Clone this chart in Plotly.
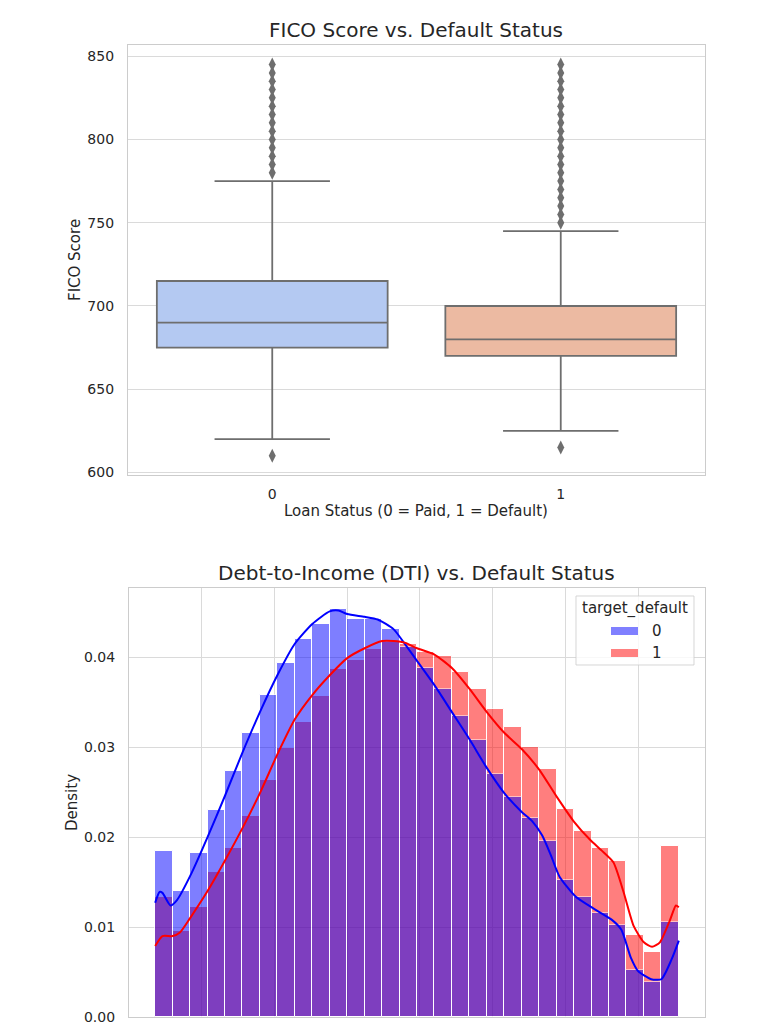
import plotly.graph_objects as go

# ---------------- DATA ----------------
# FICO box-plot statistics by loan status
loan_status = [0, 1]
fico_q1 = [675, 670]
fico_median = [690, 680]
fico_q3 = [715, 700]
fico_lower_whisker = [620, 625]
fico_upper_whisker = [775, 745]
fico_outliers_0 = [610, 780, 785, 790, 795, 800, 805, 810, 815, 820, 825, 830, 835, 840, 845]
fico_outliers_1 = [615, 750, 755, 760, 765, 770, 775, 780, 785, 790, 795, 800, 805, 810,
                   815, 820, 825, 830, 835, 840, 845]

# DTI histogram (30 bins, density)
dti_bin_edges = [1.8, 3.0, 4.2, 5.4, 6.6, 7.8, 9.0, 10.2, 11.4, 12.6, 13.8, 15.0, 16.2, 17.4,
                 18.6, 19.8, 21.0, 22.2, 23.4, 24.6, 25.8, 27.0, 28.2, 29.4, 30.6, 31.8,
                 33.0, 34.2, 35.4, 36.6, 37.8]
dti_density_0 = [0.0185, 0.0140, 0.0182, 0.0230, 0.0274, 0.0316, 0.0358, 0.0394, 0.0420,
                 0.0437, 0.0454, 0.0443, 0.0443, 0.0431, 0.0411, 0.0388, 0.0365, 0.0335,
                 0.0308, 0.0270, 0.0245, 0.0221, 0.0196, 0.0152, 0.0133, 0.0116, 0.0102,
                 0.0052, 0.0039, 0.0106]
dti_density_1 = [0.0133, 0.0096, 0.0122, 0.0161, 0.0188, 0.0223, 0.0264, 0.0299, 0.0328,
                 0.0357, 0.0387, 0.0397, 0.0409, 0.0417, 0.0415, 0.0406, 0.0401, 0.0384,
                 0.0365, 0.0342, 0.0322, 0.0300, 0.0276, 0.0231, 0.0207, 0.0188, 0.0173,
                 0.0091, 0.0072, 0.0190]

# KDE curves
kde0_x = [1.8, 2.1, 2.3, 2.85, 3.3, 4.3, 5.4, 6.6, 7.8, 9.0, 10.2, 11.4, 12.6, 13.8, 14.4,
          15.0, 16.2, 17.1, 18.2, 19.0, 19.8, 21.0, 22.2, 23.4, 24.6, 25.8, 27.0, 27.7, 28.4,
          29.0, 29.6, 30.7, 32.0, 33.2, 33.85, 34.5, 35.0, 35.9, 36.6, 37.3, 37.8]
kde0_y = [0.0127, 0.0139, 0.0138, 0.0124, 0.0130, 0.0160, 0.0200, 0.0246, 0.0294, 0.0339,
          0.0380, 0.0415, 0.0437, 0.0451, 0.0452, 0.0448, 0.0445, 0.0442, 0.0431, 0.0414,
          0.0396, 0.0369, 0.0339, 0.0309, 0.0277, 0.0249, 0.0228, 0.0218, 0.0202, 0.0180,
          0.0156, 0.0134, 0.0120, 0.0108, 0.0097, 0.0066, 0.0051, 0.0042, 0.0042, 0.0064,
          0.0085]
kde1_x = [1.8, 2.3, 3.0, 3.5, 4.2, 5.4, 6.6, 7.8, 9.0, 10.2, 11.4, 12.6, 13.8, 15.0, 16.2,
          17.4, 18.2, 19.0, 19.8, 21.0, 22.2, 23.4, 24.6, 25.8, 27.0, 28.2, 29.4, 30.6, 31.7,
          32.5, 33.3, 34.0, 34.7, 35.4, 35.96, 36.5, 37.2, 37.6, 37.8]
kde1_y = [0.0079, 0.0090, 0.0090, 0.0094, 0.0110, 0.0140, 0.0174, 0.0210, 0.0249, 0.0292,
          0.0331, 0.0358, 0.0380, 0.0399, 0.0410, 0.0418, 0.0418, 0.0416, 0.0410, 0.0403,
          0.0388, 0.0365, 0.0339, 0.0316, 0.0298, 0.0275, 0.0245, 0.0217, 0.0197, 0.0185,
          0.0172, 0.0139, 0.0101, 0.0083, 0.0078, 0.0083, 0.0108, 0.0124, 0.0122]

legend_title = "target_default"
legend_labels = ["0", "1"]

# ---------------- STYLE ----------------
W, H = 768, 1024
FONT = "DejaVu Sans"
TXT = "#262626"
GRID = "#dadada"
FRAME = "#cccccc"
BOX_LINE = "#6e6e6e"
BOX_FILL = ["#b4c9f2", "#ecbaa2"]
HIST_COL = ["rgb(0,0,255)", "rgb(255,0,0)"]
PATCH_COL = ["#8080ff", "#ff8080"]


def px(x):
    return x / W


def py(y):
    return 1 - y / H


fig = go.Figure()

# ---- top: box plot ----
outliers = [fico_outliers_0, fico_outliers_1]
for i, s in enumerate(loan_status):
    fig.add_trace(go.Box(
        x=[s], q1=[fico_q1[i]], median=[fico_median[i]], q3=[fico_q3[i]],
        lowerfence=[fico_lower_whisker[i]], upperfence=[fico_upper_whisker[i]],
        width=0.8, whiskerwidth=0.5, fillcolor=BOX_FILL[i],
        line=dict(color=BOX_LINE, width=1.8), boxpoints=False,
        xaxis="x", yaxis="y", showlegend=False, hoverinfo="skip"))
    fig.add_trace(go.Scatter(
        x=[s] * len(outliers[i]), y=outliers[i], mode="markers",
        marker=dict(symbol="diamond-tall", size=10, color=BOX_LINE),
        xaxis="x", yaxis="y", showlegend=False, hoverinfo="skip"))

# ---- bottom: histogram + kde ----
centers = [(a + b) / 2 for a, b in zip(dti_bin_edges[:-1], dti_bin_edges[1:])]
widths = [b - a for a, b in zip(dti_bin_edges[:-1], dti_bin_edges[1:])]
for dens, col in [(dti_density_1, HIST_COL[1]), (dti_density_0, HIST_COL[0])]:
    fig.add_trace(go.Bar(
        x=centers, y=dens, width=widths, marker=dict(color=col, line=dict(color="white", width=1)),
        opacity=0.5, xaxis="x2", yaxis="y2", showlegend=False, hoverinfo="skip"))
for kx, ky, col in [(kde0_x, kde0_y, HIST_COL[0]), (kde1_x, kde1_y, HIST_COL[1])]:
    fig.add_trace(go.Scatter(
        x=kx, y=ky, mode="lines", line=dict(color=col, width=2, shape="spline", smoothing=0.6),
        xaxis="x2", yaxis="y2", showlegend=False, hoverinfo="skip"))

axis_common = dict(showgrid=True, gridcolor=GRID, gridwidth=1, showline=True, linecolor=FRAME,
                   linewidth=1.3, mirror=True, zeroline=False, ticks="", automargin=False,
                   ticklabeloverflow="allow",
                   tickfont=dict(family=FONT, size=14, color=TXT))

fig.update_layout(
    width=W, height=H, autosize=False, margin=dict(l=0, r=0, t=0, b=0),
    paper_bgcolor="white", plot_bgcolor="white", template="none",
    barmode="overlay", bargap=0, showlegend=False,
    xaxis=dict(axis_common, domain=[px(128), px(705)], range=[-0.5, 1.5], tickvals=loan_status,
               ticktext=[str(v) for v in loan_status], anchor="y", ticklabelstandoff=6,
               showgrid=False),
    yaxis=dict(axis_common, domain=[py(475.4), py(45)], range=[598.25, 856.75],
               tickvals=[600, 650, 700, 750, 800, 850], anchor="x", ticklabelstandoff=10),
    xaxis2=dict(axis_common, domain=[px(129), px(705)], range=[0.0, 39.6],
                tickvals=[5, 10, 15, 20, 25, 30, 35], showticklabels=False, anchor="y2"),
    yaxis2=dict(axis_common, domain=[py(1017), py(588)], range=[0, 0.0477],
                tickvals=[0, 0.01, 0.02, 0.03, 0.04], tickformat=".2f", anchor="x2",
                ticklabelstandoff=10),
)


def note(text, x, y, size, angle=0, xanchor="center"):
    return dict(text=text, x=px(x), y=py(y), xref="paper", yref="paper", showarrow=False,
                xanchor=xanchor, yanchor="middle", textangle=angle,
                font=dict(family=FONT, size=size, color=TXT))


ann = [
    note("FICO Score vs. Default Status", 416, 30, 20),
    note("Debt-to-Income (DTI) vs. Default Status", 416, 573, 20),
    note("Loan Status (0 = Paid, 1 = Default)", 416, 511, 15),
    note("FICO Score", 75, 260, 15, angle=-90),
    note("Density", 72, 803, 15, angle=-90),
    note(legend_title, 635, 608, 15),
]
shapes = [dict(type="rect", xref="paper", yref="paper", x0=px(576), x1=px(694), y0=py(665),
               y1=py(596), line=dict(color="rgba(204,204,204,0.8)", width=1),
               fillcolor="rgba(255,255,255,0.8)", layer="above")]
for k, lab in enumerate(legend_labels):
    yc = 631 + 22 * k
    shapes.append(dict(type="rect", xref="paper", yref="paper", x0=px(611), x1=px(638),
                       y0=py(yc + 4), y1=py(yc - 4), line=dict(width=0), fillcolor=PATCH_COL[k],
                       layer="above"))
    ann.append(note(lab, 650, yc, 15, xanchor="left"))
fig.update_layout(annotations=ann, shapes=shapes)

fig.write_html("out.html")
